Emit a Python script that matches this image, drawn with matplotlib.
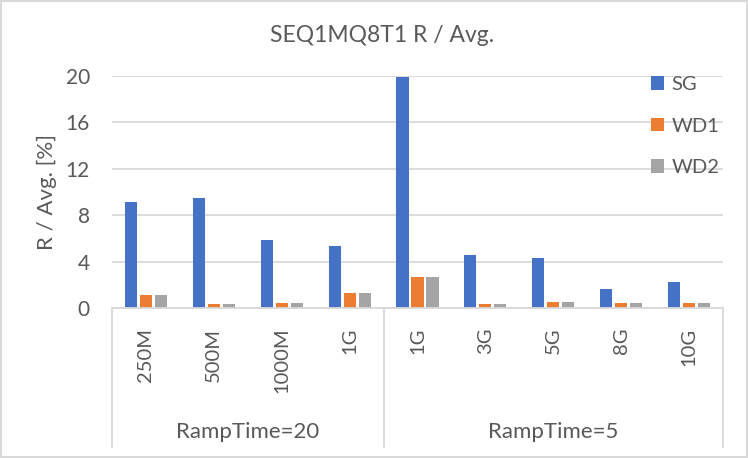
import matplotlib
matplotlib.use("Agg")
import matplotlib.pyplot as plt
from matplotlib.patches import Rectangle
import numpy as np

# chart data
groups = ["RampTime=20", "RampTime=5"]
group_sizes = [4, 5]
categories = ["250M", "500M", "1000M", "1G", "1G", "3G", "5G", "8G", "10G"]
series_names = ["SG", "WD1", "WD2"]
sg = [9.15, 9.5, 5.9, 5.35, 19.9, 4.6, 4.3, 1.65, 2.25]
wd1 = [1.15, 0.38, 0.47, 1.33, 2.7, 0.38, 0.55, 0.47, 0.47]
wd2 = [1.15, 0.38, 0.47, 1.33, 2.7, 0.38, 0.55, 0.47, 0.47]
yticks = [0, 4, 8, 12, 16, 20]

colors = ["#4472C4", "#ED7D31", "#A5A5A5"]
text_color = "#595959"
grid_color = "#D9D9D9"

plt.rcParams["font.family"] = ["Lato", "DejaVu Sans"]

fig = plt.figure(figsize=(7.48, 4.58), dpi=100)
ax = fig.add_axes([112 / 748, 1 - 308.3 / 458, (723 - 112) / 748, (308.3 - 75.7) / 458])

x = np.arange(len(categories))
width = 0.177
step = 0.221
for i, (vals, name) in enumerate(zip([sg, wd1, wd2], series_names)):
    ax.bar(x + (i - 1) * step, vals, width, color=colors[i], label=name, zorder=2)

ax.set_xlim(-0.5, len(categories) - 0.5)
ax.set_ylim(0, 20)
ax.set_yticks(yticks)
ax.yaxis.grid(True, color=grid_color, linewidth=1.3, zorder=0)
ax.set_axisbelow(True)
ax.tick_params(axis="y", length=0, pad=16, labelsize=15, labelcolor=text_color)
ax.tick_params(axis="x", length=0, pad=14, labelsize=14.5, labelcolor=text_color)
ax.set_xticks(x)
ax.set_xticklabels(categories, rotation=90, va="top", ha="center")

for side in ["left", "right", "top"]:
    ax.spines[side].set_visible(False)
ax.spines["bottom"].set_color(grid_color)
ax.spines["bottom"].set_linewidth(1.3)

# multi-level category axis: separators and group labels
edges = np.concatenate([[0], np.cumsum(group_sizes)]) - 0.5
trans = ax.get_xaxis_transform()
for e in edges:
    ax.plot([e, e], [0, -0.596], color=grid_color, linewidth=1.3,
            transform=trans, clip_on=False)
for g, lo, hi in zip(groups, edges[:-1], edges[1:]):
    ax.text((lo + hi) / 2, -(431.7 - 308.3) / 232.6, g, transform=trans,
            ha="center", va="center", fontsize=16, color=text_color)

# title and y label
fig.text(382 / 748, 1 - 36 / 458, "SEQ1MQ8T1 R / Avg.", ha="center", va="center",
         fontsize=16.5, color=text_color)
fig.text(47 / 748, 1 - 191.5 / 458, "R / Avg. [%]", ha="center", va="center",
         rotation=90, fontsize=16, color=text_color)

leg = ax.legend(loc="upper left", bbox_to_anchor=(651 / 748, 1 - 76 / 458),
                bbox_transform=fig.transFigure, frameon=False, fontsize=14.5,
                handlelength=0.63, handleheight=0.63, handletextpad=0.4,
                labelspacing=1.22, borderaxespad=0, borderpad=0)
for t in leg.get_texts():
    t.set_color(text_color)

# chart border
fig.patches.append(Rectangle((0.002, 0.003), 0.996, 0.994, transform=fig.transFigure,
                             fill=False, edgecolor=grid_color, linewidth=1.5))

fig.savefig("out.png", dpi=100)
